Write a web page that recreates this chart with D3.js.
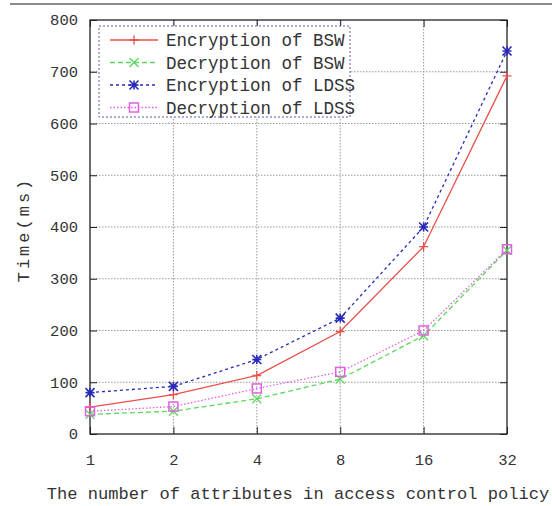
<!DOCTYPE html>
<html>
<head>
<meta charset="utf-8">
<script src="https://cdn.jsdelivr.net/npm/d3@7"></script>
<style>
  html, body { margin: 0; padding: 0; background: #fff; }
  svg { display: block; }
  text { font-family: "Liberation Mono", "DejaVu Sans Mono", monospace; fill: #333; }
</style>
</head>
<body>
<svg id="chart" width="552" height="506"></svg>
<script>
// Number of attributes in the access control policy
const categories = ["1", "2", "4", "8", "16", "32"];
const yTicks = [0, 100, 200, 300, 400, 500, 600, 700, 800];

// Times in milliseconds
const encBSW  = [52, 76, 113, 198, 362, 692];
const decBSW  = [38, 44, 68, 106, 190, 355];
const encLDSS = [80, 92, 144, 224, 400, 740];
const decLDSS = [44, 53, 88, 120, 200, 357];

const seriesNames = ["Encryption of BSW", "Decryption of BSW", "Encryption of LDSS", "Decryption of LDSS"];

const series = [
  { name: seriesNames[0], values: encBSW,  color: "#e8504a", dash: null,    marker: "plus" },
  { name: seriesNames[1], values: decBSW,  color: "#5ad85a", dash: "5,3",   marker: "cross" },
  { name: seriesNames[2], values: encLDSS, color: "#2a2ab8", dash: "3,3",   marker: "star" },
  { name: seriesNames[3], values: decLDSS, color: "#e060e0", dash: "1.5,2", marker: "square" }
];

const W = 552, H = 506;
const margin = { top: 20, right: 45, bottom: 72, left: 90 };
const svg = d3.select("#chart");

// Thin rule across the top of the figure
svg.append("line")
  .attr("x1", 10).attr("x2", W).attr("y1", 4).attr("y2", 4)
  .attr("stroke", "#8a8a8a").attr("stroke-width", 2);

const x = d3.scalePoint().domain(categories).range([margin.left, W - margin.right]).padding(0);
const y = d3.scaleLinear().domain([0, 800]).range([H - margin.bottom, margin.top]);

const gridG = svg.append("g");
// horizontal grid
gridG.selectAll("line.h").data(yTicks.slice(1, -1)).join("line")
  .attr("x1", margin.left).attr("x2", W - margin.right)
  .attr("y1", d => y(d)).attr("y2", d => y(d))
  .attr("stroke", "#9a9a9a").attr("stroke-width", 1).attr("stroke-dasharray", "1.5,1.5");
// vertical grid
gridG.selectAll("line.v").data(categories.slice(1, -1)).join("line")
  .attr("x1", d => x(d)).attr("x2", d => x(d))
  .attr("y1", margin.top).attr("y2", H - margin.bottom)
  .attr("stroke", "#9a9a9a").attr("stroke-width", 1).attr("stroke-dasharray", "1.5,1.5");

// Axes with inward ticks on all four sides
const axisStyle = g => {
  g.select(".domain").remove();
  g.selectAll(".tick line").attr("stroke", "#222");
  g.selectAll(".tick text").attr("font-size", 15.5).attr("fill", "#333");
};
svg.append("g").attr("transform", `translate(0,${H - margin.bottom})`)
  .call(d3.axisBottom(x).tickSizeInner(-7).tickSizeOuter(0).tickPadding(20))
  .call(axisStyle);
svg.append("g").attr("transform", `translate(0,${margin.top})`)
  .call(d3.axisTop(x).tickSizeInner(-7).tickSizeOuter(0).tickFormat(""))
  .call(axisStyle);
svg.append("g").attr("transform", `translate(${margin.left},0)`)
  .call(d3.axisLeft(y).tickValues(yTicks).tickSizeInner(-7).tickSizeOuter(0).tickPadding(12))
  .call(axisStyle);
svg.append("g").attr("transform", `translate(${W - margin.right},0)`)
  .call(d3.axisRight(y).tickValues(yTicks).tickSizeInner(-7).tickSizeOuter(0).tickFormat(""))
  .call(axisStyle);

// Frame
svg.append("rect")
  .attr("x", margin.left).attr("y", margin.top)
  .attr("width", W - margin.left - margin.right).attr("height", H - margin.top - margin.bottom)
  .attr("fill", "none").attr("stroke", "#222").attr("stroke-width", 1.3);

// Axis titles
svg.append("text")
  .attr("x", 298).attr("y", 499)
  .attr("text-anchor", "middle").attr("font-size", 17.1)
  .text("The number of attributes in access control policy");
svg.append("text")
  .attr("transform", `translate(29,229.5) rotate(-90)`)
  .attr("text-anchor", "middle").attr("font-size", 17).attr("letter-spacing", 3)
  .text("Time(ms)");

// Marker shapes
function drawMarker(g, type, cx, cy, color) {
  const s = 4.5;
  if (type === "plus") {
    g.append("path").attr("d", `M${cx - s},${cy}H${cx + s}M${cx},${cy - s}V${cy + s}`)
      .attr("stroke", color).attr("stroke-width", 1.3).attr("fill", "none");
  } else if (type === "cross") {
    g.append("path").attr("d", `M${cx - s},${cy - s}L${cx + s},${cy + s}M${cx - s},${cy + s}L${cx + s},${cy - s}`)
      .attr("stroke", color).attr("stroke-width", 1.3).attr("fill", "none");
  } else if (type === "star") {
    g.append("path").attr("d", `M${cx - s},${cy}H${cx + s}M${cx},${cy - s}V${cy + s}M${cx - s},${cy - s}L${cx + s},${cy + s}M${cx - s},${cy + s}L${cx + s},${cy - s}`)
      .attr("stroke", color).attr("stroke-width", 1.6).attr("fill", "none");
  } else if (type === "square") {
    g.append("rect").attr("x", cx - s).attr("y", cy - s).attr("width", 2 * s).attr("height", 2 * s)
      .attr("stroke", color).attr("stroke-width", 1.5).attr("fill", "none");
  }
}

const line = d3.line().x((d, i) => x(categories[i])).y(d => y(d));

const plotG = svg.append("g");
series.forEach(s => {
  plotG.append("path").datum(s.values)
    .attr("d", line)
    .attr("fill", "none").attr("stroke", s.color).attr("stroke-width", 1.3)
    .attr("stroke-dasharray", s.dash);
  s.values.forEach((v, i) => drawMarker(plotG, s.marker, x(categories[i]), y(v), s.color));
});

// Legend
const legend = svg.append("g");
legend.append("rect")
  .attr("x", 99).attr("y", 26).attr("width", 251).attr("height", 91)
  .attr("fill", "#fff").attr("stroke", "#5a5ab0").attr("stroke-width", 1)
  .attr("stroke-dasharray", "2,2");
series.forEach((s, i) => {
  const ly = 40 + i * 22.5;
  legend.append("line")
    .attr("x1", 110).attr("x2", 158).attr("y1", ly).attr("y2", ly)
    .attr("stroke", s.color).attr("stroke-width", 1.3).attr("stroke-dasharray", s.dash);
  drawMarker(legend, s.marker, 134, ly, s.color);
  legend.append("text")
    .attr("x", 166).attr("y", ly).attr("dy", "0.35em")
    .attr("font-size", 17.5)
    .text(s.name);
});
</script>
</body>
</html>
